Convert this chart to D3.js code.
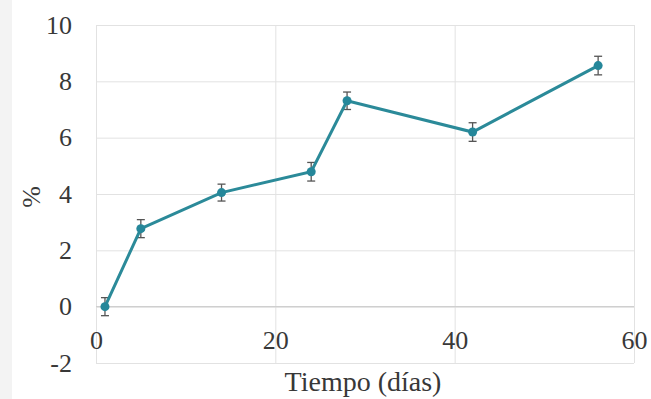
<!DOCTYPE html>
<meta charset="utf-8">
<script src="https://d3js.org/d3.v7.min.js"></script>
<style>
  body { margin: 0; background: #fff; }
  svg text { font-family: 'Liberation Serif', 'DejaVu Serif', serif !important; fill: #383838; }
</style>
<div id="chart"></div>
<script>
  // data
  var days = [1, 5, 14, 24, 28, 42, 56];
  var pct = [0.0, 2.77, 4.05, 4.79, 7.31, 6.2, 8.56];
  var err = [0.32, 0.32, 0.3, 0.33, 0.31, 0.33, 0.33];
  var xTicks = [0, 20, 40, 60];
  var yTicks = [-2, 0, 2, 4, 6, 8, 10];

  var W = 651, H = 399;
  var margin = {top: 25, right: 17, bottom: 36, left: 96},
      width = W - margin.left - margin.right,
      height = H - margin.top - margin.bottom;

  var root = d3.select("#chart").append("svg")
    .attr("width", W)
    .attr("height", H);

  // light strip at the left edge
  root.append("rect").attr("x", 0).attr("y", 0).attr("width", 12).attr("height", H).attr("fill", "#f3f3f3");

  var svg = root.append("g")
    .attr("transform", "translate(" + margin.left + "," + margin.top + ")");

  var x = d3.scaleLinear().domain([0, 60]).range([0, width]);
  var y = d3.scaleLinear().domain([-2, 10]).range([height, 0]);

  // gridlines
  svg.append("g")
    .call(d3.axisLeft(y).tickValues(yTicks).tickSize(-width).tickFormat(""))
    .call(function(g){ g.select(".domain").remove(); })
    .selectAll("line").attr("stroke", "#e2e2e2");
  svg.append("g")
    .attr("transform", "translate(0," + height + ")")
    .call(d3.axisBottom(x).tickValues(xTicks).tickSize(-height).tickFormat(""))
    .call(function(g){ g.select(".domain").remove(); })
    .selectAll("line").attr("stroke", "#e2e2e2");

  // horizontal axis line at 0
  svg.append("line")
    .attr("x1", 0).attr("x2", width)
    .attr("y1", y(0)).attr("y2", y(0))
    .attr("stroke", "#cfcfcf").attr("stroke-width", 1.2);

  // y tick labels
  var ya = svg.append("g")
    .call(d3.axisLeft(y).tickValues(yTicks).tickSize(0).tickPadding(24)
      .tickFormat(function(d){ return String(d); }));
  ya.attr("font-family", "Liberation Serif, serif").attr("font-size", 26);
  ya.select(".domain").remove();

  // x tick labels
  var xa = svg.append("g")
    .attr("transform", "translate(0," + y(0) + ")")
    .call(d3.axisBottom(x).tickValues(xTicks).tickSize(0).tickPadding(24));
  xa.attr("font-family", "Liberation Serif, serif").attr("font-size", 26);
  xa.select(".domain").remove();

  // error bars
  var eb = svg.append("g").selectAll("g")
    .data(days)
    .enter().append("g");
  eb.append("line")
    .attr("x1", function(d){ return x(d); })
    .attr("x2", function(d){ return x(d); })
    .attr("y1", function(d, i){ return y(pct[i] - err[i]); })
    .attr("y2", function(d, i){ return y(pct[i] + err[i]); })
    .attr("stroke", "#555").attr("stroke-width", 1.3);
  [-1, 1].forEach(function(s){
    eb.append("line")
      .attr("x1", function(d){ return x(d) - 4; })
      .attr("x2", function(d){ return x(d) + 4; })
      .attr("y1", function(d, i){ return y(pct[i] + s * err[i]); })
      .attr("y2", function(d, i){ return y(pct[i] + s * err[i]); })
      .attr("stroke", "#555").attr("stroke-width", 1.3);
  });

  // line
  var line = d3.line()
    .x(function(d, i){ return x(days[i]); })
    .y(function(d, i){ return y(pct[i]); });
  svg.append("path")
    .datum(pct)
    .attr("d", line)
    .attr("fill", "none")
    .attr("stroke", "#2b8a99")
    .attr("stroke-width", 3);

  svg.append("g").selectAll("circle")
    .data(days)
    .enter().append("circle")
      .attr("cx", function(d){ return x(d); })
      .attr("cy", function(d, i){ return y(pct[i]); })
      .attr("r", 4.5)
      .attr("fill", "#25879a");

  // axis titles
  root.append("text")
    .attr("x", 363).attr("y", 391)
    .attr("text-anchor", "middle")
    .style("font-size", "28px")
    .text("Tiempo (días)");

  root.append("text")
    .attr("transform", "translate(40,197) rotate(-90)")
    .attr("text-anchor", "middle")
    .style("font-size", "26px")
    .text("%");
</script>
